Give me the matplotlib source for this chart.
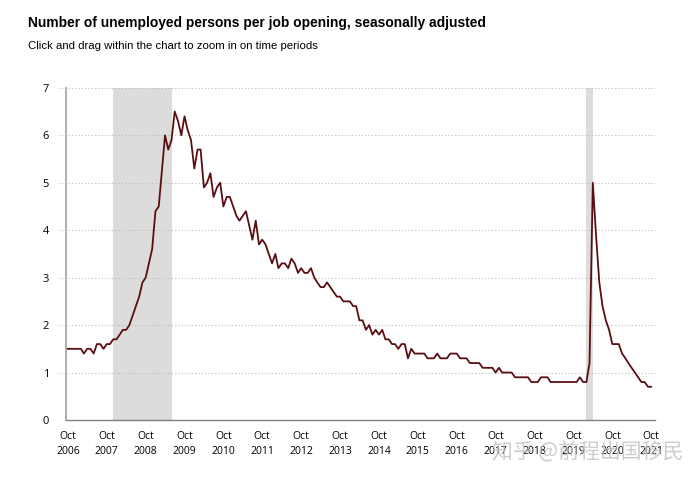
import matplotlib
matplotlib.use('Agg')
import matplotlib.pyplot as plt
import numpy as np
import pandas as pd

# unemployed persons per job opening, monthly from Oct 2006
ratio_2006 = [1.5, 1.5, 1.5]  # Oct-Dec
ratio_2007 = [1.5, 1.5, 1.4, 1.5, 1.5, 1.4, 1.6, 1.6, 1.5, 1.6, 1.6, 1.7]
ratio_2008 = [1.7, 1.8, 1.9, 1.9, 2.0, 2.2, 2.4, 2.6, 2.9, 3.0, 3.3, 3.6]
ratio_2009 = [4.4, 4.5, 5.2, 6.0, 5.7, 5.9, 6.5, 6.3, 6.0, 6.4, 6.1, 5.9]
ratio_2010 = [5.3, 5.7, 5.7, 4.9, 5.0, 5.2, 4.7, 4.9, 5.0, 4.5, 4.7, 4.7]
ratio_2011 = [4.5, 4.3, 4.2, 4.3, 4.4, 4.1, 3.8, 4.2, 3.7, 3.8, 3.7, 3.5]
ratio_2012 = [3.3, 3.5, 3.2, 3.3, 3.3, 3.2, 3.4, 3.3, 3.1, 3.2, 3.1, 3.1]
ratio_2013 = [3.2, 3.0, 2.9, 2.8, 2.8, 2.9, 2.8, 2.7, 2.6, 2.6, 2.5, 2.5]
ratio_2014 = [2.5, 2.4, 2.4, 2.1, 2.1, 1.9, 2.0, 1.8, 1.9, 1.8, 1.9, 1.7]
ratio_2015 = [1.7, 1.6, 1.6, 1.5, 1.6, 1.6, 1.3, 1.5, 1.4, 1.4, 1.4, 1.4]
ratio_2016 = [1.3, 1.3, 1.3, 1.4, 1.3, 1.3, 1.3, 1.4, 1.4, 1.4, 1.3, 1.3]
ratio_2017 = [1.3, 1.2, 1.2, 1.2, 1.2, 1.1, 1.1, 1.1, 1.1, 1.0, 1.1, 1.0]
ratio_2018 = [1.0, 1.0, 1.0, 0.9, 0.9, 0.9, 0.9, 0.9, 0.8, 0.8, 0.8, 0.9]
ratio_2019 = [0.9, 0.9, 0.8, 0.8, 0.8, 0.8, 0.8, 0.8, 0.8, 0.8, 0.8, 0.9]
ratio_2020 = [0.8, 0.8, 1.2, 5.0, 3.9, 2.9, 2.4, 2.1, 1.9, 1.6, 1.6, 1.6]
ratio_2021 = [1.4, 1.3, 1.2, 1.1, 1.0, 0.9, 0.8, 0.8, 0.7, 0.7]  # Jan-Oct

ratio = (ratio_2006 + ratio_2007 + ratio_2008 + ratio_2009 + ratio_2010 + ratio_2011
         + ratio_2012 + ratio_2013 + ratio_2014 + ratio_2015 + ratio_2016 + ratio_2017
         + ratio_2018 + ratio_2019 + ratio_2020 + ratio_2021)
dates = pd.date_range('2006-10-01', periods=len(ratio), freq='MS')

recessions = [('2007-12-01', '2009-06-01'), ('2020-02-01', '2020-04-01')]
tick_years = list(range(2006, 2022))
y_ticks = [0, 1, 2, 3, 4, 5, 6, 7]

plt.rcParams['font.family'] = ['Liberation Sans', 'DejaVu Sans']

fig = plt.figure(figsize=(7, 4.8), dpi=100)
ax = fig.add_axes([0.094, 0.125, 0.842, 0.692])

for start, end in recessions:
    ax.axvspan(pd.Timestamp(start), pd.Timestamp(end), color='#dcdcdc', lw=0, zorder=0)

ax.plot(dates, ratio, color='#5a0e12', lw=1.3, zorder=3)

ax.set_ylim(0, 7)
ax.set_xlim(pd.Timestamp('2006-09-12'), pd.Timestamp('2021-11-08'))

ax.set_yticks(y_ticks)
ax.set_yticklabels([str(t) for t in y_ticks], family=['Open Sans', 'DejaVu Sans'], fontsize=8)
ax.hlines(y_ticks[1:], -0.014, 1, transform=ax.get_yaxis_transform(), clip_on=False,
          colors='#bcbcbc', linestyles=(0, (1, 2)), lw=0.8, zorder=1)
ax.tick_params(axis='y', length=0, pad=12)

ax.set_xticks([pd.Timestamp('%d-10-01' % y) for y in tick_years])
ax.set_xticklabels(['Oct\n%d' % y for y in tick_years], family=['Open Sans', 'DejaVu Sans'],
                   fontsize=7.5, linespacing=1.45)
ax.tick_params(axis='x', length=0, pad=8)

for side in ['top', 'right']:
    ax.spines[side].set_visible(False)
ax.spines['left'].set_color('#a0a0a0')
ax.spines['bottom'].set_color('#808080')
ax.spines['left'].set_linewidth(1.2)
ax.spines['bottom'].set_linewidth(1.0)

fig.text(0.04, 0.953, 'Number of unemployed persons per job opening, seasonally adjusted',
         fontsize=9.9, fontweight='bold', va='center')
fig.text(0.04, 0.905, 'Click and drag within the chart to zoom in on time periods',
         fontsize=8.2, va='center')

# watermark on the source image
fig.text(0.84, 0.057, '知乎 @前程出国移民', family=['Noto Sans CJK SC', 'DejaVu Sans'],
         fontsize=15, color='#c0c0c0', alpha=0.8, ha='center', va='center', zorder=5)

fig.savefig('out.png', dpi=100)
